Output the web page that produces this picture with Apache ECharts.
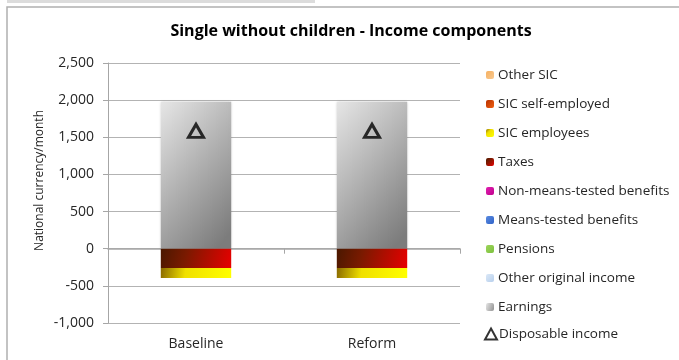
<!DOCTYPE html>
<html>
<head>
<meta charset="utf-8">
<script src="https://cdn.jsdelivr.net/npm/echarts@6/dist/echarts.min.js"></script>
<style>
html,body{margin:0;padding:0;background:#fff;}
#main{width:679px;height:360px;}
</style>
</head>
<body>
<div id="main"></div>
<script>
var categories = ['Baseline', 'Reform'];
var otherSIC = [0, 0];
var sicSelfEmployed = [0, 0];
var sicEmployees = [-135, -135];
var taxes = [-260, -260];
var nonMeansTested = [0, 0];
var meansTested = [0, 0];
var pensions = [0, 0];
var otherOriginal = [0, 0];
var earnings = [1980, 1980];
var disposableIncome = [1585, 1585];
var yTicks = [-1000, -500, 0, 500, 1000, 1500, 2000, 2500];

var FONT = '"Open Sans", sans-serif';
function lg(c0, c1, mid, x2, y2) {
  var stops = [{offset: 0, color: c0}];
  if (mid) stops.push({offset: 0.35, color: mid});
  stops.push({offset: 1, color: c1});
  return new echarts.graphic.LinearGradient(0, 0, x2 == null ? 1 : x2, y2 == null ? 1 : y2, stops);
}
function barSeries(name, data, color, extra) {
  var s = {
    name: name, type: 'bar', stack: 'inc', data: data,
    barWidth: '40%', xAxisIndex: 0,
    itemStyle: {color: color},
    emphasis: {disabled: true}
  };
  if (extra) for (var k in extra) s[k] = extra[k];
  return s;
}

var earnGrad = lg('#e6e6e6', '#7c7c7c', null, 1.5, 0.6);
var chart = echarts.init(document.getElementById('main'), null, {renderer: 'canvas'});
var option = {
  animation: false,
  backgroundColor: '#ffffff',
  title: {
    text: 'Single without children - Income components',
    left: 346, top: 18, textAlign: 'center',
    textStyle: {fontFamily: FONT, fontSize: 16, fontWeight: 'bold', color: '#000'}
  },
  grid: {left: 108, right: 219, top: 63, bottom: 37, containLabel: false},
  legend: [{
    data: ['Other SIC', 'SIC self-employed', 'SIC employees', 'Taxes', 'Non-means-tested benefits',
           'Means-tested benefits', 'Pensions', 'Other original income', 'Earnings'],
    orient: 'vertical', left: 481, top: 63,
    itemWidth: 8, itemHeight: 8, itemGap: 15,
    textStyle: {fontFamily: FONT, fontSize: 13.5, color: '#262626', padding: [0, 0, 0, -1]},
    selectedMode: false
  }, {
    data: ['Disposable income'],
    orient: 'vertical', left: 479, top: 322,
    itemWidth: 12, itemHeight: 11,
    textStyle: {fontFamily: FONT, fontSize: 13.5, color: '#262626', padding: [0, 0, 0, -3]},
    selectedMode: false
  }],
  xAxis: [{
    type: 'category', data: categories, position: 'bottom',
    axisLine: {show: false, onZero: false},
    axisTick: {show: false},
    axisLabel: {fontFamily: FONT, fontSize: 14, color: '#262626', margin: 14}
  }, {
    type: 'category', data: categories, position: 'top',
    axisLine: {show: true, onZero: true, lineStyle: {color: '#a6a6a6', width: 1.5}},
    axisTick: {show: true, inside: true, length: 5, lineStyle: {color: '#a6a6a6'}},
    axisLabel: {show: false}
  }],
  yAxis: {
    type: 'value', min: -1000, max: 2500, interval: 500,
    axisLine: {show: true, lineStyle: {color: '#a6a6a6'}},
    axisTick: {show: true, length: 5, lineStyle: {color: '#a6a6a6'}},
    splitLine: {show: true, lineStyle: {color: '#b3b3b3', width: 1}},
    axisLabel: {
      fontFamily: FONT, fontSize: 14, color: '#262626', margin: 14,
      formatter: function (v) { return v.toLocaleString('en-US'); }
    }
  },
  graphic: [
    {type: 'rect', shape: {x: 7, y: 0, width: 308, height: 3}, style: {fill: '#dcdcdc'}, z: 100},
    {type: 'rect', shape: {x: 7, y: 7, width: 700, height: 400}, style: {fill: 'none', stroke: '#b0b0b0', lineWidth: 1.5}, z: 100},
    {type: 'text', left: 34, top: 110, rotation: Math.PI / 2,
     style: {text: 'National currency/month', font: '12px "Open Sans", sans-serif', fill: '#262626'}, z: 100}
  ],
  series: [
    barSeries('Earnings', earnings, earnGrad, {itemStyle: {color: earnGrad, shadowBlur: 3, shadowColor: 'rgba(0,0,0,0.25)'}}),
    barSeries('Other original income', otherOriginal, lg('#dbe8f7', '#b7cfec')),
    barSeries('Pensions', pensions, lg('#9dd45a', '#7cc13e')),
    barSeries('Means-tested benefits', meansTested, lg('#5b8be0', '#2f63c8')),
    barSeries('Non-means-tested benefits', nonMeansTested, lg('#e020b0', '#c0008c')),
    barSeries('Taxes', taxes, lg('#4a1800', '#e80000', '#7a1a00')),
    barSeries('SIC employees', sicEmployees, lg('#8a6a00', '#ffff00', '#f0e000')),
    barSeries('SIC self-employed', sicSelfEmployed, lg('#b83000', '#f06010')),
    barSeries('Other SIC', otherSIC, lg('#f6b060', '#f8c890')),
    {
      name: 'Disposable income', type: 'scatter', data: disposableIncome, xAxisIndex: 0,
      symbol: 'triangle', symbolSize: [15, 13],
      itemStyle: {color: 'rgba(255,255,255,0)', borderColor: '#000', borderWidth: 3},
      emphasis: {disabled: true}, z: 10
    }
  ]
};
chart.setOption(option);
</script>
</body>
</html>
